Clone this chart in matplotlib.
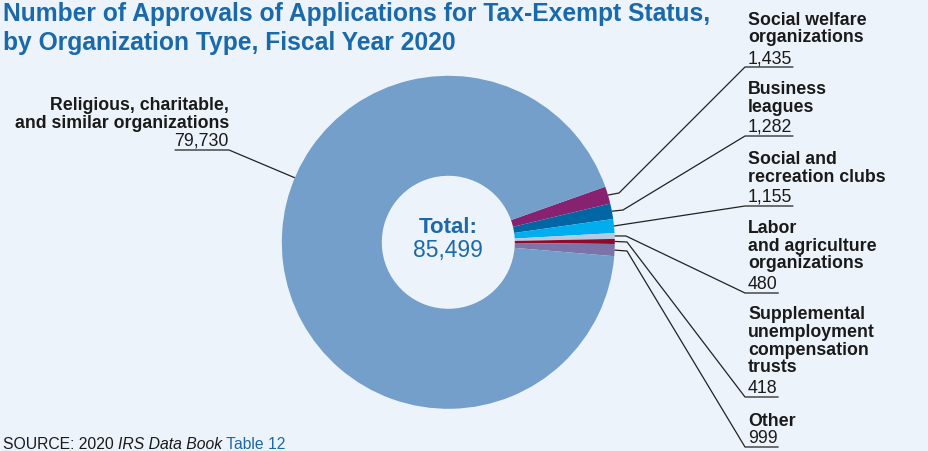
import matplotlib
matplotlib.use("Agg")
import matplotlib.pyplot as plt
import numpy as np

# ---------------- data ----------------
categories = [
    "Social welfare\norganizations",
    "Business\nleagues",
    "Social and\nrecreation clubs",
    "Labor\nand agriculture\norganizations",
    "Supplemental\nunemployment\ncompensation\ntrusts",
    "Other",
    "Religious, charitable,\nand similar organizations",
]
values = [1435, 1282, 1155, 480, 418, 999, 79730]
total_label = "85,499"
colors = ["#88216F", "#0066A4", "#00AEEF", "#B7C8E0", "#8E0B2B", "#7A74A8", "#739FCA"]

title_lines = ["Number of Approvals of Applications for Tax-Exempt Status,",
               "by Organization Type, Fiscal Year 2020"]

# ---------------- layout ----------------
W, H = 929, 452
BG = "#EDF3FA"
BLUE = "#1A69AA"
TXT = "#1a1a1a"
plt.rcParams['font.family'] = ['Liberation Sans', 'DejaVu Sans']

fig = plt.figure(figsize=(W / 100, H / 100), dpi=100, facecolor=BG)
ax = fig.add_axes([0, 0, 1, 1])
ax.set_facecolor(BG)

cx, cy = 448.3, H - 243.3
R, HOLE = 166.5, 66.5
wedges, _ = ax.pie(values, colors=colors, startangle=19.5, counterclock=False,
                   radius=R, center=(cx, cy),
                   wedgeprops=dict(width=R - HOLE, linewidth=0))
ax.set_xlim(0, W)
ax.set_ylim(0, H)
ax.set_aspect('equal')
ax.axis('off')

renderer = fig.canvas.get_renderer()


def right_px(t):
    bb = t.get_window_extent(renderer=renderer)
    return bb.x0, bb.x1


FS = 12.8
LS = 17.7
LW = 0.9
LC = "#222222"

# right-side labels
under_y = [68, 137, 207, 294, 398, 448]
elbows = [(619, 194), (623, 211), None, (626, 237), (627, 243), (627, 252)]
LX = 748
for i in range(6):
    uy = under_y[i]
    vb = uy - 5
    vt = ax.text(LX, H - vb, f"{values[i]:,}", fontsize=FS, va='baseline', ha='left', color=TXT)
    lines = categories[i].split("\n")
    gap = 17 if len(lines) == 1 else 20.5
    last = vb - gap
    for j, ln in enumerate(reversed(lines)):
        ax.text(LX, H - (last - j * LS), ln, fontsize=FS, fontweight='bold',
                va='baseline', ha='left', color=TXT)
    x0, x1 = right_px(vt)
    w = wedges[i]
    mid = np.deg2rad((w.theta1 + w.theta2) / 2)
    sx, sy = cx + R * np.cos(mid), cy + R * np.sin(mid)
    xs, ys = [sx], [sy]
    if elbows[i] is not None:
        xs.append(elbows[i][0]); ys.append(H - elbows[i][1])
    xs += [LX - 3, x1 + 1]
    ys += [H - uy, H - uy]
    ax.plot(xs, ys, color=LC, lw=LW, solid_capstyle='butt')

# left label (largest slice)
RX = 229
rel_lines = categories[6].split("\n")
ax.text(RX, H - 110, rel_lines[0], fontsize=FS, fontweight='bold', ha='right', va='baseline', color=TXT)
ax.text(RX, H - 127.8, rel_lines[1], fontsize=FS, fontweight='bold', ha='right', va='baseline', color=TXT)
vt = ax.text(RX, H - 145.5, f"{values[6]:,}", fontsize=FS, ha='right', va='baseline', color=TXT)
x0, x1 = right_px(vt)
ang = np.deg2rad(157.2)
ax.plot([x0, RX, cx + R * np.cos(ang)], [H - 151, H - 151, cy + R * np.sin(ang)],
        color=LC, lw=LW, solid_capstyle='butt')

# center total
ax.text(cx, H - 233.3, "Total:", fontsize=16, fontweight='bold', ha='center', va='baseline', color=BLUE)
ax.text(cx, H - 256.7, total_label, fontsize=16.5, ha='center', va='baseline', color=BLUE)

# title
ax.text(3, H - 20.5, title_lines[0], fontsize=17.75, fontweight='bold', ha='left', va='baseline', color=BLUE)
ax.text(3, H - 50, title_lines[1], fontsize=17.75, fontweight='bold', ha='left', va='baseline', color=BLUE)

# source
sx0 = 3
parts = [("SOURCE: 2020 ", 'normal', TXT), ("IRS Data Book", 'italic', TXT), (" Table 12", 'normal', BLUE)]
for txt, style, col in parts:
    t = ax.text(sx0, H - 449, txt, fontsize=11.3, fontstyle=style, ha='left', va='baseline', color=col)
    a, b = right_px(t)
    sx0 = b

fig.savefig("out.png", dpi=100, facecolor=BG)
